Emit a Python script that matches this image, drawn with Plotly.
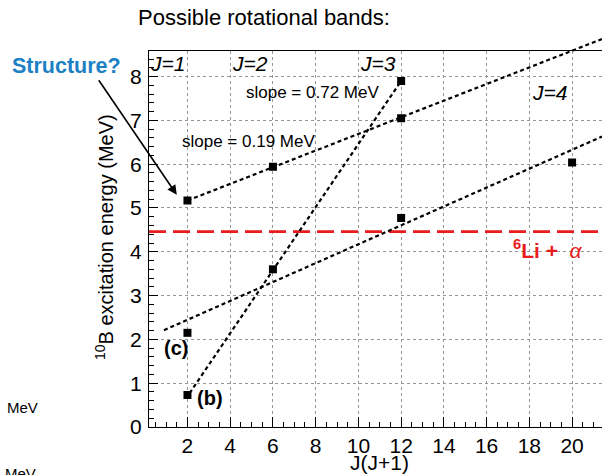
import plotly.graph_objects as go

# ---- data -------------------------------------------------------------
# excitation levels of 10B, plotted against J(J+1)
level_jj = [2, 6, 12, 12, 20, 12, 2, 2, 6]
level_e = [5.17, 5.94, 7.05, 7.90, 6.04, 4.77, 2.15, 0.73, 3.60]

# rotational band fits (J(J+1) span and energy at the ends)
band_a_x = [2.0, 21.4]
band_a_slope = 0.19
band_a_e0 = 5.17

band_b_x = [2.1, 12.0]
band_b_slope = 0.72
band_b_e1 = 7.90

band_c_x = [0.9, 21.4]
band_c_y = [2.21, 6.63]

# 6Li + alpha threshold
threshold_e = 4.46

x_range = [0.2, 21.4]
y_range = [0.0, 8.59]

# ---- geometry ---------------------------------------------------------
W, H = 602, 475
M_L, M_R, M_T, M_B = 149, 0, 30, 48
plot_h = H - M_T - M_B
frame_top_px = 50.7
y_dom_top = (H - M_B - frame_top_px) / plot_h
y2_top = y_range[1] / y_dom_top

FONT = "Liberation Sans, Arial, Helvetica, sans-serif"
BLACK = "black"
RED = "rgb(232,28,28)"
BLUE = "rgb(28,128,196)"
GRID = "rgb(150,150,150)"
DASH = "4px,3px"
NBSP = "\u00a0"

band_a_y = [band_a_e0 + band_a_slope * (x - band_a_x[0]) for x in band_a_x]
band_b_y = [band_b_e1 - band_b_slope * (band_b_x[1] - x) for x in band_b_x]

fig = go.Figure()

# threshold line
fig.add_trace(go.Scatter(x=x_range, y=[threshold_e, threshold_e], mode="lines",
                         line=dict(color=RED, width=2.8, dash="17px,7px"),
                         hoverinfo="skip", showlegend=False))

# levels
fig.add_trace(go.Scatter(x=level_jj, y=level_e, mode="markers",
                         marker=dict(symbol="square", size=8, color=BLACK),
                         showlegend=False))

# band lines live on a twin axis pair with the same scale but a taller
# domain, so the 0.19 MeV band can run past the top of the frame
line_style = dict(color=BLACK, width=2.2, dash=DASH)
for bx, by in [(band_a_x, band_a_y), (band_b_x, band_b_y), (band_c_x, band_c_y)]:
    fig.add_trace(go.Scatter(x=bx, y=by, mode="lines", line=line_style,
                             xaxis="x2", yaxis="y2", hoverinfo="skip",
                             showlegend=False))

axis_common = dict(
    showline=True, linecolor=BLACK, linewidth=1,
    ticks="inside", tickcolor=BLACK, tickwidth=1,
    showgrid=True, gridcolor=GRID, griddash="dot", gridwidth=1,
    zeroline=False,
    tickfont=dict(family=FONT, size=21, color=BLACK),
)

fig.update_layout(
    width=W, height=H,
    margin=dict(l=M_L, r=M_R, t=M_T, b=M_B, pad=0),
    paper_bgcolor="white", plot_bgcolor="rgba(0,0,0,0)",
    xaxis=dict(range=x_range, domain=[0, 1], anchor="y", tick0=0, dtick=2,
               ticklen=10, mirror=True, ticklabelstandoff=0,
               minor=dict(dtick=0.5, tick0=0, ticks="inside", ticklen=5,
                          tickcolor=BLACK, showgrid=False),
               **axis_common),
    yaxis=dict(range=y_range, domain=[0, y_dom_top], anchor="x", tick0=0,
               dtick=1, ticklen=9, ticklabelstandoff=2,
               minor=dict(dtick=0.2, tick0=0, ticks="inside", ticklen=5,
                          tickcolor=BLACK, showgrid=False),
               **axis_common),
    xaxis2=dict(range=x_range, domain=[0, 1], anchor="y2", visible=False,
                showgrid=False, zeroline=False),
    yaxis2=dict(range=[0, y2_top], domain=[0, 1], anchor="x2", visible=False,
                showgrid=False, zeroline=False),
)

def note(text, x, y, size, color=BLACK, ref="data", **kw):
    xr, yr = ("x", "y") if ref == "data" else ("paper", "paper")
    fig.add_annotation(text=text, x=x, y=y, xref=xr, yref=yr, showarrow=False,
                       xanchor="center", yanchor="middle",
                       font=dict(family=FONT, size=size, color=color), **kw)

def px_x(px):
    return (px - M_L) / (W - M_L - M_R)

def px_y(py):
    return (H - M_B - py) / plot_h

# headings and axis titles
note("Possible rotational bands:", px_x(264), px_y(18), 22, ref="paper")
note("J(J+1)", px_x(379), px_y(462), 21, ref="paper")
note("<sup>10</sup>B excitation energy (MeV)", px_x(104), px_y(237), 20,
     ref="paper", textangle=-90)
note("MeV", px_x(22), px_y(407), 15, ref="paper")
note("MeV", px_x(20), px_y(473), 15, ref="paper")

# band labels
note("<i>J=1</i>", 1.05, 8.30, 21)
note("<i>J=2</i>", 4.92, 8.30, 21)
note("<i>J=3</i>", 10.9, 8.30, 21)
note("<i>J=4</i>", 18.93, 7.64, 21)
note("slope = 0.72 MeV", 7.83, 7.64, 17)
note("slope = 0.19 MeV", 4.87, 6.52, 17)
note("<b>(c)</b>", 1.46, 1.80, 20)
note("<b>(b)</b>", 3.05, 0.66, 20)
note(f"<b><sup>6</sup>Li{NBSP}+</b>{NBSP}{NBSP}<i>α</i>",
     18.88, 4.07, 21, color=RED)

note("<b>Structure?</b>", px_x(66.5), px_y(66), 21.5, color=BLUE, ref="paper")
fig.add_annotation(text="", x=1.5, y=5.30, xref="x", yref="y",
                   ax=-79, ay=-116, axref="pixel", ayref="pixel",
                   showarrow=True, arrowhead=2, arrowsize=1.2, arrowwidth=1.6,
                   arrowcolor=BLACK)

fig.write_html("out.html")
